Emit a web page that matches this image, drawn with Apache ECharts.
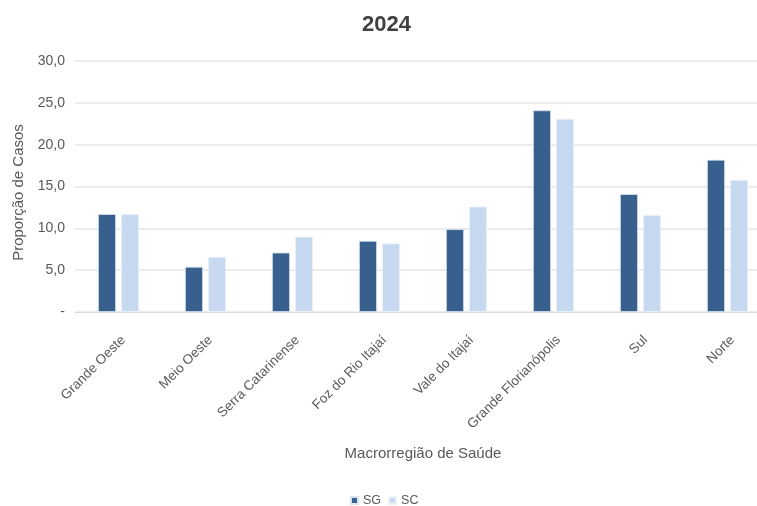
<!DOCTYPE html>
<html>
<head>
<meta charset="utf-8">
<script src="https://cdn.jsdelivr.net/npm/echarts@6/dist/echarts.min.js"></script>
<style>
  html, body { margin: 0; padding: 0; background: #fff; overflow: hidden; }
  #chart { width: 771px; height: 506px; }
</style>
</head>
<body>
<div id="chart"></div>
<script>
var regioes = ['Grande Oeste', 'Meio Oeste', 'Serra Catarinense', 'Foz do Rio Itajaí', 'Vale do Itajaí', 'Grande Florianópolis', 'Sul', 'Norte'];
var valoresSG = [11.7, 5.4, 7.1, 8.5, 9.9, 24.1, 14.1, 18.2];
var valoresSC = [11.7, 6.6, 9.0, 8.2, 12.6, 23.1, 11.6, 15.8];
var ticksY = [0, 5, 10, 15, 20, 25, 30];

var fonte = '"Liberation Sans", "DejaVu Sans", sans-serif';
// o gráfico é um pouco mais largo que a janela: a área de plotagem passa da borda direita
var mychart = echarts.init(document.getElementById('chart'));
mychart.setOption({
  animation: false,
  textStyle: { fontFamily: fonte },
  title: {
    text: '2024',
    left: 357,
    top: 9,
    textStyle: { color: '#404040', fontSize: 22, fontWeight: 'bold', fontFamily: fonte }
  },
  legend: {
    top: 489,
    left: 345,
    icon: 'rect',
    itemWidth: 7,
    itemHeight: 7,
    itemGap: 7,
    textStyle: { color: '#595959', fontSize: 12.5 },
    data: ['SG', 'SC']
  },
  grid: { left: 75, top: 61, right: 0, height: 251, containLabel: false },
  xAxis: {
    type: 'category',
    data: regioes,
    name: 'Macrorregião de Saúde',
    nameLocation: 'middle',
    nameGap: 134,
    nameTextStyle: { color: '#595959', fontSize: 15 },
    axisLine: { lineStyle: { color: '#d9d9d9' } },
    axisTick: { show: false },
    axisLabel: { rotate: 45, color: '#595959', fontSize: 13.5, margin: 21, verticalAlign: 'top' }
  },
  yAxis: {
    type: 'value',
    min: 0,
    max: 30,
    interval: 5,
    name: 'Proporção de Casos',
    nameLocation: 'middle',
    nameGap: 49,
    nameTextStyle: { color: '#595959', fontSize: 15, padding: [0, 12, 0, 0] },
    axisLine: { show: false },
    axisTick: { show: false },
    splitLine: { lineStyle: { color: '#e6e6e6', width: 1.5 } },
    axisLabel: {
      color: '#595959',
      fontSize: 14,
      margin: 10,
      formatter: function (v) {
        if (ticksY.indexOf(v) < 0) return '';
        return v === 0 ? '-' : v.toFixed(1).replace('.', ',');
      }
    }
  },
  series: [
    {
      name: 'SG',
      type: 'bar',
      data: valoresSG,
      barWidth: 18,
      barGap: '28%',
      itemStyle: { color: '#37608f', borderColor: '#dbe3ee', borderWidth: 0.8 }
    },
    {
      name: 'SC',
      type: 'bar',
      data: valoresSC,
      barWidth: 18,
      itemStyle: { color: '#c7d9f0', borderColor: '#eef3fa', borderWidth: 0.8 }
    }
  ]
});
</script>
</body>
</html>
